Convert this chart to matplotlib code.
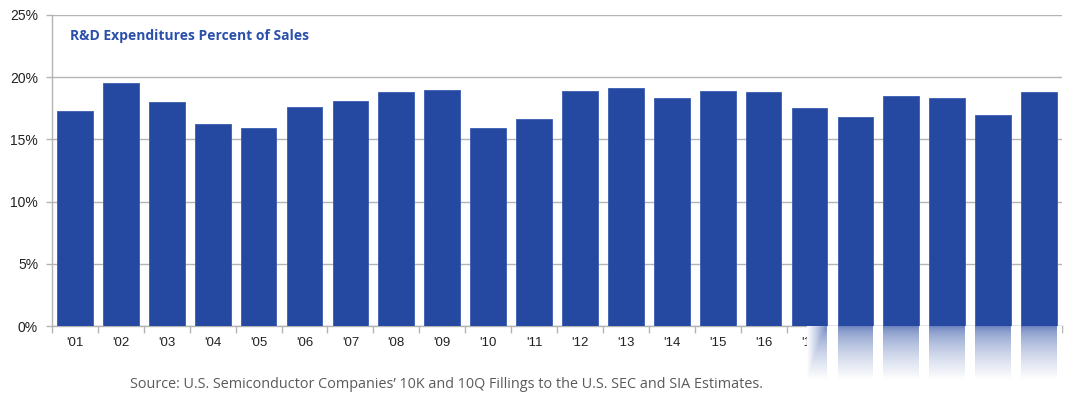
import matplotlib
matplotlib.use("Agg")
import matplotlib.pyplot as plt
import numpy as np
from matplotlib.ticker import FixedLocator, PercentFormatter

years = ["'01", "'02", "'03", "'04", "'05", "'06", "'07", "'08", "'09", "'10", "'11",
         "'12", "'13", "'14", "'15", "'16", "'17", "'18", "'19", "'20", "'21", "'22"]
rd_pct = [17.3, 19.5, 18.0, 16.2, 15.9, 17.6, 18.1, 18.8, 19.0, 15.9, 16.6,
          18.9, 19.1, 18.3, 18.9, 18.8, 17.5, 16.8, 18.5, 18.3, 17.0, 18.8]
yticks = [0, 5, 10, 15, 20, 25]

title = "R&D Expenditures Percent of Sales"
source = "Source: U.S. Semiconductor Companies\u2019 10K and 10Q Fillings to the U.S. SEC and SIA Estimates."

plt.rcParams["font.family"] = ["Liberation Sans", "DejaVu Sans"]

bar_color = "#2549A0"
grid_color = "#B4B4B4"

W, H = 1080, 399
fig = plt.figure(figsize=(W / 100, H / 100), dpi=100)
fig.patch.set_facecolor("white")
ax = fig.add_axes([52 / W, 1 - 326 / H, (1062 - 52) / W, (326 - 15) / H])

x = np.arange(len(years))
ax.bar(x, rd_pct, width=0.78, color=bar_color, edgecolor="#3a5cb0", linewidth=0.6, zorder=3)

ax.set_xlim(-0.5, len(years) - 0.5)
ax.set_ylim(0, 25)
ax.set_yticks(yticks)
ax.yaxis.set_major_formatter(PercentFormatter(decimals=0))
ax.grid(axis="y", color=grid_color, linewidth=1.0, zorder=0)
ax.set_axisbelow(True)

ax.set_xticks(x)
ax.set_xticklabels(years, fontsize=9.5, color="#222222")
ax.xaxis.set_minor_locator(FixedLocator(np.arange(-0.5, len(years), 1.0)))
ax.tick_params(axis="x", which="major", length=0, pad=8)
ax.tick_params(axis="x", which="minor", length=5, color=grid_color, width=1, direction="out")
ax.tick_params(axis="y", length=4, color=grid_color, width=1, pad=6,
               labelsize=10, labelcolor="#222222")

for s in ["top", "right"]:
    ax.spines[s].set_visible(False)
for s in ["left", "bottom"]:
    ax.spines[s].set_color(grid_color)
    ax.spines[s].set_linewidth(1.0)

fig.text(70 / W, 1 - 36 / H, title, fontfamily="Open Sans",
         fontweight="bold", fontsize=10, color="#2B50AC", va="center", ha="left")

fig.text(130 / W, 1 - 384 / H, source, fontfamily="Open Sans", fontsize=10.4,
         color="#5a5a5a", va="center", ha="left")

# fading reflection effect at bottom-right (as in the reference image)
ppu = 12.44  # pixels per percent
ybot = -56 / ppu
xstart = (807 - 52) / 45.9 - 0.5
xend = len(years) - 0.5
ax.add_patch(plt.Rectangle((xstart, ybot), xend - xstart, -ybot, facecolor="white",
                           edgecolor="none", clip_on=False, zorder=5))
idx = np.arange(16, len(years))
refl = ax.bar(idx, [-ybot] * len(idx), bottom=ybot, width=0.78, color=bar_color,
              linewidth=0, clip_on=False, zorder=6)
for r in refl:
    x0 = r.get_x()
    if x0 < xstart:
        r.set_x(xstart)
        r.set_width(r.get_width() - (xstart - x0))

ny, nx = 100, 300
yy = np.linspace(0, 1, ny)[:, None]          # 0 top -> 1 bottom
xx = np.linspace(0, 1, nx)[None, :]
alpha_v = 0.3 + 0.7 * np.clip(yy / 0.95, 0, 1) ** 0.6
alpha_h = np.clip(1 - xx / 0.1, 0, 1) ** 0.7
alpha = np.maximum(alpha_v, alpha_h)
img = np.ones((ny, nx, 4))
img[..., 3] = alpha
ax.imshow(img, extent=(xstart, xend, ybot, 0), aspect="auto", clip_on=False,
          zorder=7, interpolation="bilinear")
ax.set_xlim(-0.5, len(years) - 0.5)
ax.set_ylim(0, 25)

fig.savefig("out.png", dpi=100, facecolor="white")
